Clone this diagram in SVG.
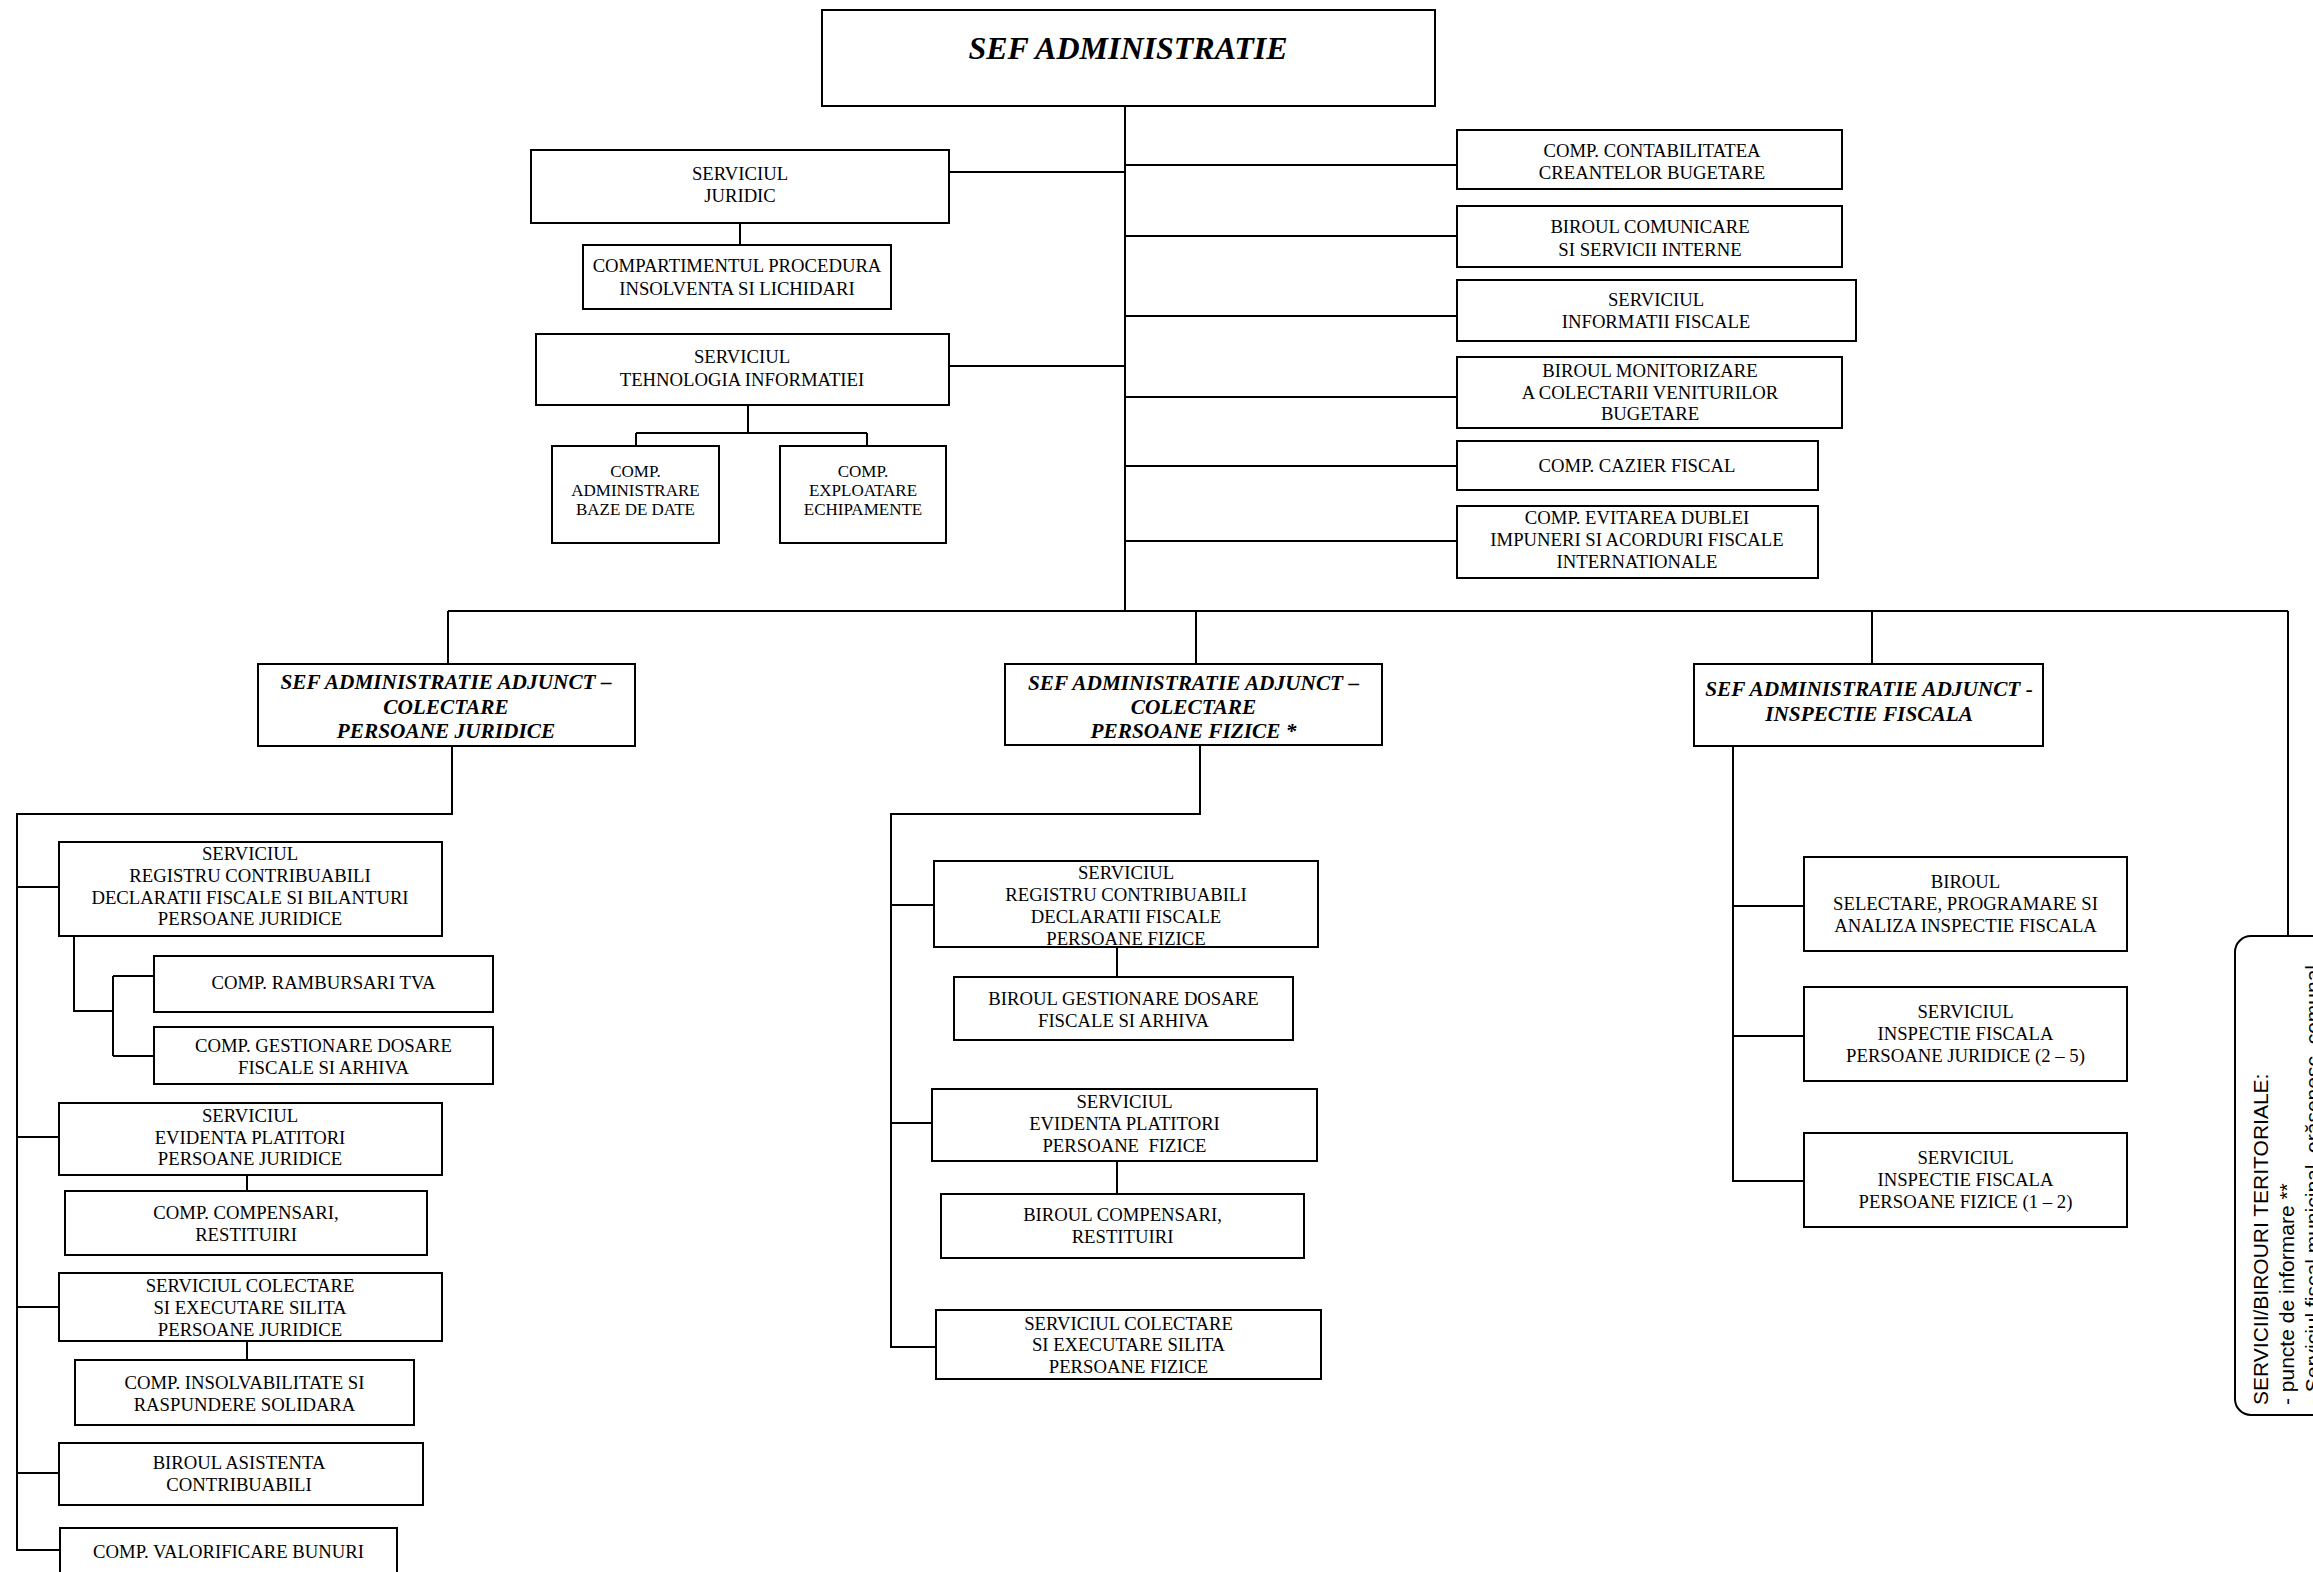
<svg xmlns="http://www.w3.org/2000/svg" width="2313" height="1572" viewBox="0 0 2313 1572">
<style>
.b{fill:#fff;stroke:#000;stroke-width:2}
.t{font-family:"Liberation Serif","Times New Roman",serif;font-size:18.7px;text-anchor:middle;fill:#000}
.s{font-size:17px}
.h{font-family:"Liberation Serif","Times New Roman",serif;font-size:21.3px;font-weight:bold;font-style:italic;text-anchor:middle;fill:#000}
.r{font-family:"Liberation Sans",Arial,sans-serif;font-size:21px;fill:#000}
.c{fill:none;stroke:#000;stroke-width:2}
</style>
<rect width="2313" height="1572" fill="#fff"/>
<g id="connectors" class="c">
<path d="M1125 106V611"/>
<path d="M949 172H1125M949 366H1125"/>
<path d="M740 223V245"/>
<path d="M748 405V433M636 433H867M636 433V446M867 433V446"/>
<path d="M1125 165H1457M1125 236H1457M1125 316H1457M1125 397H1457M1125 466H1457M1125 541H1457"/>
<path d="M448 611H2288M448 611V664M1196 611V664M1872 611V664M2288 611V936"/>
<path d="M452 746V814H17V1550H60M17 887H59M17 1137H59M17 1307H59M17 1473H59"/>
<path d="M74 936V1011H113M113 976V1056M113 976H154M113 1056H154"/>
<path d="M247 1175V1191M247 1341V1360"/>
<path d="M1200 745V814H891V1347H936M891 905H934M891 1123H932"/>
<path d="M1117 947V977M1117 1161V1194"/>
<path d="M1733 746V1181H1804M1733 906H1804M1733 1036H1804"/>
</g>
<g id="sef">
<rect class="b" x="822" y="10" width="613" height="96"/>
<text x="1128" y="59" style="font-family:'Liberation Serif','Times New Roman',serif;font-size:32px;font-weight:bold;font-style:italic;text-anchor:middle">SEF ADMINISTRATIE</text>
</g>
<g id="juridic">
<rect class="b" x="531" y="150" width="418" height="73"/>
<text class="t" x="740" y="180">SERVICIUL</text>
<text class="t" x="740" y="202">JURIDIC</text>
</g>
<g id="procedura">
<rect class="b" x="583" y="245" width="308" height="64"/>
<text class="t" x="737" y="272">COMPARTIMENTUL PROCEDURA</text>
<text class="t" x="737" y="294.5">INSOLVENTA SI LICHIDARI</text>
</g>
<g id="tehnologia">
<rect class="b" x="536" y="334" width="413" height="71"/>
<text class="t" x="742" y="363">SERVICIUL</text>
<text class="t" x="742" y="386">TEHNOLOGIA INFORMATIEI</text>
</g>
<g id="adminbd">
<rect class="b" x="552" y="446" width="167" height="97"/>
<text class="t s" x="635.5" y="477">COMP.</text>
<text class="t s" x="635.5" y="496">ADMINISTRARE</text>
<text class="t s" x="635.5" y="515">BAZE DE DATE</text>
</g>
<g id="exploatare">
<rect class="b" x="780" y="446" width="166" height="97"/>
<text class="t s" x="863" y="477">COMP.</text>
<text class="t s" x="863" y="496">EXPLOATARE</text>
<text class="t s" x="863" y="515">ECHIPAMENTE</text>
</g>
<g id="contabilitatea">
<rect class="b" x="1457" y="130" width="385" height="59"/>
<text class="t" x="1652" y="157">COMP. CONTABILITATEA</text>
<text class="t" x="1652" y="179">CREANTELOR BUGETARE</text>
</g>
<g id="comunicare">
<rect class="b" x="1457" y="206" width="385" height="61"/>
<text class="t" x="1650" y="233">BIROUL COMUNICARE</text>
<text class="t" x="1650" y="256">SI SERVICII INTERNE</text>
</g>
<g id="informatii">
<rect class="b" x="1457" y="280" width="399" height="61"/>
<text class="t" x="1656" y="306">SERVICIUL</text>
<text class="t" x="1656" y="328">INFORMATII FISCALE</text>
</g>
<g id="monitorizare">
<rect class="b" x="1457" y="357" width="385" height="71"/>
<text class="t" x="1650" y="377">BIROUL MONITORIZARE</text>
<text class="t" x="1650" y="398.5">A COLECTARII VENITURILOR</text>
<text class="t" x="1650" y="420">BUGETARE</text>
</g>
<g id="cazier">
<rect class="b" x="1457" y="441" width="361" height="49"/>
<text class="t" x="1637" y="472">COMP. CAZIER FISCAL</text>
</g>
<g id="evitarea">
<rect class="b" x="1457" y="506" width="361" height="72"/>
<text class="t" x="1637" y="524">COMP. EVITAREA DUBLEI</text>
<text class="t" x="1637" y="546">IMPUNERI SI ACORDURI FISCALE</text>
<text class="t" x="1637" y="568">INTERNATIONALE</text>
</g>
<g id="adjunct-pj">
<rect class="b" x="258" y="664" width="377" height="82"/>
<text class="h" x="446" y="689">SEF ADMINISTRATIE ADJUNCT –</text>
<text class="h" x="446" y="713.5">COLECTARE</text>
<text class="h" x="446" y="738">PERSOANE JURIDICE</text>
</g>
<g id="adjunct-pf">
<rect class="b" x="1005" y="664" width="377" height="81"/>
<text class="h" x="1193.5" y="689.5">SEF ADMINISTRATIE ADJUNCT –</text>
<text class="h" x="1193.5" y="714">COLECTARE</text>
<text class="h" x="1193.5" y="738">PERSOANE FIZICE *</text>
</g>
<g id="adjunct-if">
<rect class="b" x="1694" y="664" width="349" height="82"/>
<text class="h" x="1869" y="696">SEF ADMINISTRATIE ADJUNCT -</text>
<text class="h" x="1869" y="721">INSPECTIE FISCALA</text>
</g>
<g id="registru-pj">
<rect class="b" x="59" y="842" width="383" height="94"/>
<text class="t" x="250" y="860">SERVICIUL</text>
<text class="t" x="250" y="882">REGISTRU CONTRIBUABILI</text>
<text class="t" x="250" y="903.5">DECLARATII FISCALE SI BILANTURI</text>
<text class="t" x="250" y="925">PERSOANE JURIDICE</text>
</g>
<g id="rambursari">
<rect class="b" x="154" y="956" width="339" height="56"/>
<text class="t" x="323.5" y="988.5">COMP. RAMBURSARI TVA</text>
</g>
<g id="gestionare-pj">
<rect class="b" x="154" y="1027" width="339" height="57"/>
<text class="t" x="323.5" y="1052">COMP. GESTIONARE DOSARE</text>
<text class="t" x="323.5" y="1074">FISCALE SI ARHIVA</text>
</g>
<g id="evidenta-pj">
<rect class="b" x="59" y="1103" width="383" height="72"/>
<text class="t" x="250" y="1122">SERVICIUL</text>
<text class="t" x="250" y="1143.5">EVIDENTA PLATITORI</text>
<text class="t" x="250" y="1165">PERSOANE JURIDICE</text>
</g>
<g id="compensari-pj">
<rect class="b" x="65" y="1191" width="362" height="64"/>
<text class="t" x="246" y="1219">COMP. COMPENSARI,</text>
<text class="t" x="246" y="1241">RESTITUIRI</text>
</g>
<g id="colectare-pj">
<rect class="b" x="59" y="1273" width="383" height="68"/>
<text class="t" x="250" y="1291.5">SERVICIUL COLECTARE</text>
<text class="t" x="250" y="1313.5">SI EXECUTARE SILITA</text>
<text class="t" x="250" y="1335.5">PERSOANE JURIDICE</text>
</g>
<g id="insolvabilitate">
<rect class="b" x="75" y="1360" width="339" height="65"/>
<text class="t" x="244.5" y="1388.5">COMP. INSOLVABILITATE SI</text>
<text class="t" x="244.5" y="1410.5">RASPUNDERE SOLIDARA</text>
</g>
<g id="asistenta">
<rect class="b" x="59" y="1443" width="364" height="62"/>
<text class="t" x="239" y="1468.5">BIROUL ASISTENTA</text>
<text class="t" x="239" y="1490.5">CONTRIBUABILI</text>
</g>
<g id="valorificare">
<rect class="b" x="60" y="1528" width="337" height="70"/>
<text class="t" x="228.5" y="1557.5">COMP. VALORIFICARE BUNURI</text>
</g>
<g id="registru-pf">
<rect class="b" x="934" y="861" width="384" height="86"/>
<text class="t" x="1126" y="879">SERVICIUL</text>
<text class="t" x="1126" y="901">REGISTRU CONTRIBUABILI</text>
<text class="t" x="1126" y="922.5">DECLARATII FISCALE</text>
<text class="t" x="1126" y="944.5">PERSOANE FIZICE</text>
</g>
<g id="gestionare-pf">
<rect class="b" x="954" y="977" width="339" height="63"/>
<text class="t" x="1123.5" y="1005">BIROUL GESTIONARE DOSARE</text>
<text class="t" x="1123.5" y="1027">FISCALE SI ARHIVA</text>
</g>
<g id="evidenta-pf">
<rect class="b" x="932" y="1089" width="385" height="72"/>
<text class="t" x="1124.5" y="1108">SERVICIUL</text>
<text class="t" x="1124.5" y="1130">EVIDENTA PLATITORI</text>
<text class="t" x="1124.5" y="1152" xml:space="preserve">PERSOANE  FIZICE</text>
</g>
<g id="compensari-pf">
<rect class="b" x="941" y="1194" width="363" height="64"/>
<text class="t" x="1122.5" y="1220.5">BIROUL COMPENSARI,</text>
<text class="t" x="1122.5" y="1242.5">RESTITUIRI</text>
</g>
<g id="colectare-pf">
<rect class="b" x="936" y="1310" width="385" height="69"/>
<text class="t" x="1128.5" y="1329.5">SERVICIUL COLECTARE</text>
<text class="t" x="1128.5" y="1351">SI EXECUTARE SILITA</text>
<text class="t" x="1128.5" y="1372.5">PERSOANE FIZICE</text>
</g>
<g id="selectare">
<rect class="b" x="1804" y="857" width="323" height="94"/>
<text class="t" x="1965.5" y="887.5">BIROUL</text>
<text class="t" x="1965.5" y="909.5">SELECTARE, PROGRAMARE SI</text>
<text class="t" x="1965.5" y="931.5">ANALIZA INSPECTIE FISCALA</text>
</g>
<g id="inspectie-pj">
<rect class="b" x="1804" y="987" width="323" height="94"/>
<text class="t" x="1965.5" y="1017.5">SERVICIUL</text>
<text class="t" x="1965.5" y="1039.5">INSPECTIE FISCALA</text>
<text class="t" x="1965.5" y="1061.5">PERSOANE JURIDICE (2 – 5)</text>
</g>
<g id="inspectie-pf">
<rect class="b" x="1804" y="1133" width="323" height="94"/>
<text class="t" x="1965.5" y="1163.5">SERVICIUL</text>
<text class="t" x="1965.5" y="1185.5">INSPECTIE FISCALA</text>
<text class="t" x="1965.5" y="1207.5">PERSOANE FIZICE (1 – 2)</text>
</g>
<g id="teritoriale">
<rect class="b" x="2235" y="936" width="200" height="479" rx="16" ry="16"/>
<text class="r" transform="translate(2268 1405) rotate(-90)">SERVICII/BIROURI TERITORIALE:</text>
<text class="r" transform="translate(2294 1405) rotate(-90)">- puncte de informare **</text>
<text class="r" transform="translate(2320 1405) rotate(-90)">- Serviciul fiscal municipal, orăşenesc, comunal</text>
</g>
</svg>
